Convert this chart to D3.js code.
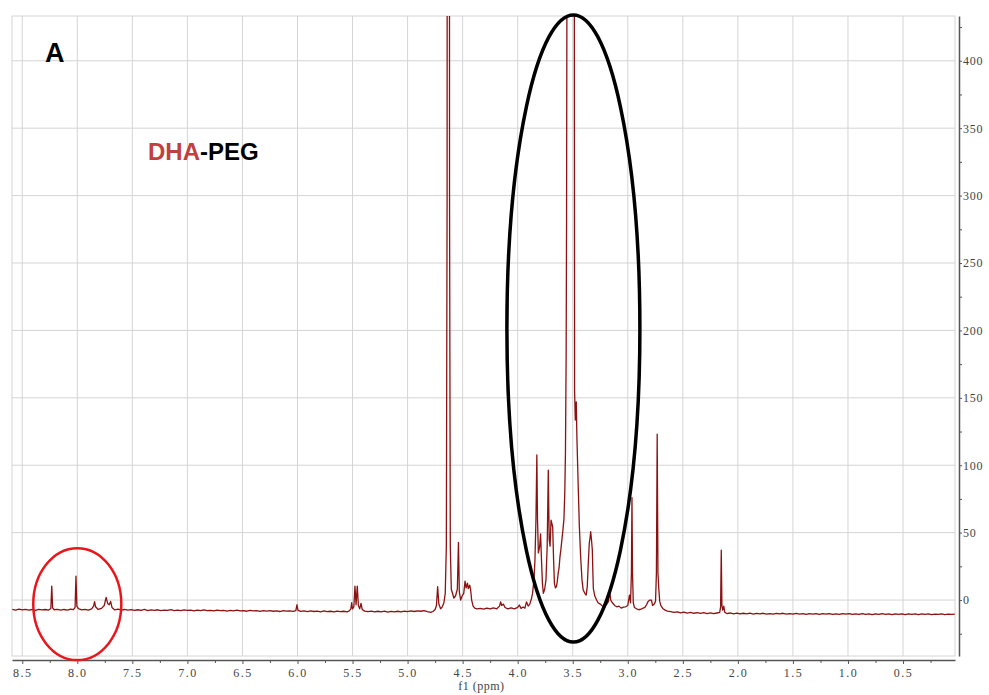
<!DOCTYPE html>
<html>
<head>
<meta charset="utf-8">
<script src="https://cdn.jsdelivr.net/npm/d3@7"></script>
<style>
  html, body { margin: 0; padding: 0; background: #fff; }
  svg { display: block; }
</style>
</head>
<body>
<svg id="chart" width="989" height="695"></svg>
<script>
// ---------- DATA ----------
const xMajorTicks = [8.5, 8.0, 7.5, 7.0, 6.5, 6.0, 5.5, 5.0, 4.5, 4.0, 3.5, 3.0, 2.5, 2.0, 1.5, 1.0, 0.5];
const xMinorTicks = [8.25, 7.75, 7.25, 6.75, 6.25, 5.75, 5.25, 4.75, 4.25, 3.75, 3.25, 2.75, 2.25, 1.75, 1.25, 0.75, 0.25];
const yMajorTicks = [0, 50, 100, 150, 200, 250, 300, 350, 400];
const yMinorTicks = [-25, 25, 75, 125, 175, 225, 275, 325, 375, 425];
const xLabel = "f1 (ppm)";
const panelLabel = "A";
const titleParts = [{ text: "DHA", color: "#c0403f" }, { text: "-PEG", color: "#000000" }];

// spectrum: [ppm, intensity]
const regionAromatic = [
  [8.59,-7.0],[8.56,-7.5],[8.53,-6.8],[8.50,-7.3],[8.47,-6.9],[8.44,-7.4],[8.41,-7.0],[8.38,-7.6],[8.35,-6.9],
  [8.32,-7.3],[8.29,-7.0],[8.26,-7.4],[8.24,-6.2],[8.232,10.4],[8.224,-5.8],[8.21,-7.2],[8.18,-6.9],[8.15,-7.5],
  [8.12,-7.0],[8.09,-7.4],[8.06,-6.8],[8.035,-7.1],[8.02,-5.5],[8.012,17.8],[8.004,-4.5],[7.99,-6.4],[7.96,-7.3],
  [7.93,-6.9],[7.90,-7.4],[7.87,-6.6],[7.852,-4.5],[7.843,-1.2],[7.834,-5.0],[7.81,-7.0],[7.78,-6.2],[7.755,-4.0],
  [7.738,2.0],[7.724,-2.5],[7.71,-3.5],[7.697,-1.0],[7.685,-5.5],[7.66,-7.3],[7.63,-6.8],[7.60,-7.4],[7.57,-7.0]
];
const regionMid = [
  [7.54,-7.5],[7.51,-7.1],[7.48,-7.7],[7.45,-7.2],[7.42,-7.6],[7.39,-7.0],[7.36,-7.8],[7.33,-7.3],[7.30,-7.7],
  [7.27,-7.2],[7.24,-7.9],[7.21,-7.4],[7.18,-7.6],[7.15,-7.1],[7.12,-7.8],[7.09,-7.5],[7.06,-7.9],[7.03,-7.3],
  [7.00,-7.7],[6.97,-7.4],[6.94,-8.0],[6.91,-7.5],[6.88,-7.9],[6.85,-7.3],[6.82,-7.8],[6.79,-7.6],[6.76,-8.1],
  [6.73,-7.5],[6.70,-7.9],[6.67,-7.6],[6.64,-8.2],[6.61,-7.7],[6.58,-8.0],[6.55,-7.5],[6.52,-8.1],[6.49,-7.8],
  [6.46,-8.3],[6.43,-7.7],[6.40,-8.1],[6.37,-7.9],[6.34,-8.4],[6.31,-7.8],[6.28,-8.2],[6.25,-7.9],[6.22,-8.3],
  [6.19,-8.0],[6.16,-8.5],[6.13,-7.9],[6.10,-8.2],[6.07,-8.0],[6.04,-8.4],[6.015,-7.8],[6.005,-3.5],[5.995,-7.6],
  [5.97,-8.4],[5.94,-8.0],[5.91,-8.6],[5.88,-8.1],[5.85,-8.5],[5.82,-8.2],[5.79,-8.7],[5.76,-8.1],[5.73,-8.6],
  [5.70,-8.3],[5.67,-8.8],[5.64,-8.2],[5.61,-8.6],[5.58,-8.3],[5.55,-8.7],[5.53,-8.0],[5.515,-6.5],[5.508,-2.0],
  [5.500,-6.5],[5.488,-5.0],[5.478,10.4],[5.468,-3.5],[5.457,10.4],[5.447,-4.0],[5.435,-6.5],[5.423,-2.5],
  [5.412,-7.0],[5.39,-8.2],[5.36,-8.6],[5.33,-8.2],[5.30,-8.8],[5.27,-8.3],[5.24,-8.7],[5.21,-8.2],[5.18,-8.9],
  [5.15,-8.4],[5.12,-8.8],[5.09,-8.3],[5.06,-8.7],[5.03,-8.2],[5.00,-8.6],[4.97,-8.1],[4.94,-8.5],[4.91,-8.0],
  [4.88,-8.3],[4.85,-7.8],[4.82,-8.6],[4.79,-9.2]
];
const regionHDO = [
  [4.77,-8.5],[4.75,-7.0],[4.738,-4.0],[4.727,9.9],[4.716,-3.0],[4.70,-6.5],[4.685,-5.0],[4.67,-2.0],[4.658,5],
  [4.648,40],[4.641,300],[4.638,1500],[4.622,1500],[4.619,300],[4.612,40],[4.603,8],[4.592,5],[4.58,1.5],
  [4.565,3],[4.548,8],[4.538,42.8],[4.530,6],[4.518,0],[4.505,3],[4.49,5],[4.478,14],[4.468,9],[4.456,12.6],
  [4.449,8.5],[4.436,11],[4.428,8],[4.418,0],[4.405,-4.5],[4.39,-6.0],[4.37,-6.5]
];
const regionPEG = [
  [4.34,-6.2],[4.31,-6.8],[4.28,-6.0],[4.25,-6.6],[4.22,-5.8],[4.19,-6.5],[4.165,-4.5],[4.155,-1.3],[4.145,-4],
  [4.13,-3],[4.115,-5.5],[4.09,-6.5],[4.06,-5.8],[4.03,-6.6],[4.00,-5.5],[3.985,-3.7],[3.97,-6.2],[3.95,-5.2],
  [3.935,-6.0],[3.92,-1.3],[3.905,-4.5],[3.89,-3],[3.875,1],[3.865,5],[3.852,15],[3.843,30],[3.834,60],
  [3.826,107.6],[3.82,60],[3.812,35],[3.80,40],[3.792,49],[3.784,30],[3.775,12],[3.767,5],[3.755,8],[3.743,15],
  [3.732,40],[3.722,96.4],[3.714,45],[3.706,40],[3.697,59.3],[3.69,57],[3.682,54],[3.674,30],[3.666,12],
  [3.657,9],[3.648,10],[3.64,14],[3.632,20],[3.624,24],[3.616,32],[3.607,38],[3.598,45],[3.589,52],[3.58,60],
  [3.572,80],[3.566,110],[3.560,180],[3.556,283],[3.548,700],[3.542,1500],[3.490,1500],[3.485,400],[3.483,155],
  [3.477,133.5],[3.468,147],[3.462,120],[3.45,84],[3.44,55],[3.428,32],[3.416,15],[3.405,7.4],[3.39,5],
  [3.378,3.7],[3.368,10],[3.360,25],[3.35,42],[3.343,46],[3.337,50.7],[3.33,45],[3.322,37],[3.317,20],
  [3.313,8.7],[3.30,3],[3.283,0],[3.27,-2],[3.25,-3],[3.23,-4.5],[3.21,-5],[3.19,-3],[3.175,-1],[3.165,7.4],
  [3.155,0],[3.14,-2],[3.12,-4],[3.10,-5],[3.08,-4.5],[3.06,-6],[3.04,-5.2],[3.02,-5],[3.00,-4],[2.985,3.7],
  [2.975,-2],[2.967,20],[2.962,76],[2.957,20],[2.95,-2]
];
const regionAliphatic = [
  [2.94,-5.5],[2.92,-6.5],[2.90,-7.2],[2.88,-6.8],[2.86,-6.0],[2.845,-5.5],[2.83,-3.5],[2.815,-1],[2.80,0],
  [2.785,0],[2.775,-4],[2.76,-3],[2.748,-1],[2.74,20],[2.733,123],[2.726,20],[2.718,8],[2.71,-1],[2.70,-4],
  [2.68,-6.5],[2.66,-7.5],[2.64,-8.2],[2.61,-8.6],[2.58,-9.2],[2.55,-8.8],[2.52,-9.5],[2.49,-9.0],[2.46,-9.7],
  [2.43,-9.2],[2.40,-9.8],[2.37,-9.3],[2.34,-9.9],[2.31,-9.4],[2.28,-10.0],[2.25,-9.5],[2.22,-10.1],[2.19,-9.6],
  [2.165,-9.2],[2.157,-5],[2.151,37],[2.145,-4],[2.138,-7.5],[2.128,-4.5],[2.12,-9],[2.10,-10.0],[2.07,-9.6],
  [2.04,-10.2],[2.01,-9.7],[1.98,-10.3],[1.95,-9.8],[1.92,-10.2],[1.89,-9.7],[1.86,-10.4],[1.83,-9.9],
  [1.80,-10.3],[1.77,-9.8],[1.74,-10.4],[1.71,-10.0],[1.68,-10.5],[1.65,-9.9],[1.62,-10.3],[1.59,-9.8],
  [1.56,-10.4],[1.53,-10.0],[1.50,-10.5],[1.47,-9.9],[1.44,-10.4],[1.41,-10.0],[1.38,-10.6],[1.35,-10.1],
  [1.32,-10.5],[1.29,-10.0],[1.26,-10.6],[1.23,-10.1],[1.20,-10.5],[1.17,-10.0],[1.14,-10.6],[1.11,-10.2],
  [1.08,-10.7],[1.05,-10.1],[1.02,-10.5],[0.99,-10.0],[0.96,-10.6],[0.93,-10.2],[0.90,-10.7],[0.87,-10.1],
  [0.84,-10.6],[0.81,-10.2],[0.78,-10.8],[0.75,-10.3],[0.72,-10.6],[0.69,-10.1],[0.66,-10.7],[0.63,-10.3],
  [0.60,-10.8],[0.57,-10.2],[0.54,-10.6],[0.51,-10.3],[0.48,-10.8],[0.45,-10.2],[0.42,-10.7],[0.39,-10.3],
  [0.36,-10.8],[0.33,-10.3],[0.30,-10.7],[0.27,-10.2],[0.24,-10.8],[0.21,-10.4],[0.18,-10.7],[0.15,-10.3],
  [0.12,-10.8],[0.09,-10.4],[0.06,-10.7],[0.03,-10.4]
];
// annotation ellipses in data units: centre ppm, centre intensity, half-width (ppm), half-height (intensity)
const ellipses = [
  { ppm: 8.0, value: -3, rppm: 0.40, rval: 41.5, color: "#e8171c", width: 2.5 },
  { ppm: 3.494, value: 201.4, rppm: 0.604, rval: 232.6, color: "#000000", width: 3.5 }
];

// ---------- LAYOUT ----------
const plot = { left: 12, right: 955, top: 16, bottom: 656 };
const svg = d3.select("#chart");

const x = d3.scaleLinear().domain([8.593, 0.028]).range([plot.left, plot.right]);
const y = d3.scaleLinear().domain([-41.5, 433.2]).range([plot.bottom, plot.top]);

// grid
const grid = svg.append("g");
grid.selectAll("line.vg").data(xMajorTicks).enter().append("line")
  .attr("x1", d => x(d)).attr("x2", d => x(d))
  .attr("y1", plot.top).attr("y2", plot.bottom)
  .attr("stroke", "#d4d4d4").attr("stroke-width", 1);
grid.selectAll("line.hg").data(yMajorTicks).enter().append("line")
  .attr("x1", plot.left).attr("x2", plot.right)
  .attr("y1", d => y(d)).attr("y2", d => y(d))
  .attr("stroke", "#d4d4d4").attr("stroke-width", 1);
grid.append("rect")
  .attr("x", plot.left).attr("y", plot.top)
  .attr("width", plot.right - plot.left).attr("height", plot.bottom - plot.top)
  .attr("fill", "none").attr("stroke", "#d4d4d4").attr("stroke-width", 1);

// clip
svg.append("defs").append("clipPath").attr("id", "clip")
  .append("rect").attr("x", plot.left).attr("y", plot.top)
  .attr("width", plot.right - plot.left).attr("height", plot.bottom - plot.top);

// spectrum
const spectrum = [].concat(regionAromatic, regionMid, regionHDO, regionPEG, regionAliphatic);
const line = d3.line().x(d => x(d[0])).y(d => y(d[1]));
svg.append("path")
  .datum(spectrum)
  .attr("clip-path", "url(#clip)")
  .attr("d", line)
  .attr("fill", "none")
  .attr("stroke", "#8b1212")
  .attr("stroke-width", 1.3)
  .attr("stroke-linejoin", "round");

// bottom axis
const axisY = 660;
const xAxis = d3.axisBottom(x).tickValues(xMajorTicks).tickSize(4).tickSizeOuter(0)
  .tickFormat(d3.format(".1f"));
const gx = svg.append("g").attr("transform", `translate(0,${axisY})`).call(xAxis);
gx.select(".domain").attr("stroke", "#555").attr("stroke-width", 1.5);
gx.selectAll(".tick line").attr("stroke", "#555");
gx.selectAll(".tick text")
  .attr("font-family", "'Liberation Serif', 'DejaVu Serif', serif")
  .attr("font-size", 12).attr("fill", "#444").attr("letter-spacing", 1.5)
  .attr("dy", "0.85em");
const gxMinor = svg.append("g").attr("transform", `translate(0,${axisY})`)
  .call(d3.axisBottom(x).tickValues(xMinorTicks).tickSize(3).tickSizeOuter(0).tickFormat(""));
gxMinor.select(".domain").remove();
gxMinor.selectAll(".tick line").attr("stroke", "#555");

svg.append("text")
  .attr("x", x(4.33)).attr("y", 690)
  .attr("text-anchor", "middle")
  .attr("font-family", "'Liberation Serif', 'DejaVu Serif', serif")
  .attr("font-size", 12).attr("fill", "#444").attr("letter-spacing", 0.5)
  .text(xLabel);

// right axis
const axisX = 959;
const yAxis = d3.axisRight(y).tickValues(yMajorTicks).tickSize(3).tickSizeOuter(0).tickFormat(d3.format("d"));
const gy = svg.append("g").attr("transform", `translate(${axisX},0)`).call(yAxis);
gy.select(".domain").attr("stroke", "#555").attr("stroke-width", 1.5);
gy.selectAll(".tick line").attr("stroke", "#555");
gy.selectAll(".tick text")
  .attr("x", 4)
  .attr("font-family", "'Liberation Serif', 'DejaVu Serif', serif")
  .attr("font-size", 12).attr("fill", "#444").attr("letter-spacing", 0.8);
const gyMinor = svg.append("g").attr("transform", `translate(${axisX},0)`)
  .call(d3.axisRight(y).tickValues(yMinorTicks).tickSize(3).tickSizeOuter(0).tickFormat(""));
gyMinor.select(".domain").remove();
gyMinor.selectAll(".tick line").attr("stroke", "#555");

// annotation ellipses
svg.selectAll("ellipse.note").data(ellipses).enter().append("ellipse")
  .attr("cx", d => x(d.ppm)).attr("cy", d => y(d.value))
  .attr("rx", d => Math.abs(x(d.ppm + d.rppm) - x(d.ppm)))
  .attr("ry", d => Math.abs(y(d.value + d.rval) - y(d.value)))
  .attr("fill", "none").attr("stroke", d => d.color).attr("stroke-width", d => d.width);

// panel label and title
svg.append("text")
  .attr("x", 45).attr("y", 62)
  .attr("font-family", "'Liberation Sans', Arial, sans-serif")
  .attr("font-weight", "bold").attr("font-size", 27).attr("fill", "#000")
  .text(panelLabel);
const title = svg.append("text")
  .attr("x", 148).attr("y", 160)
  .attr("font-family", "'Liberation Sans', Arial, sans-serif")
  .attr("font-weight", "bold").attr("font-size", 24);
title.selectAll("tspan").data(titleParts).enter().append("tspan")
  .attr("fill", d => d.color).text(d => d.text);
</script>
</body>
</html>
